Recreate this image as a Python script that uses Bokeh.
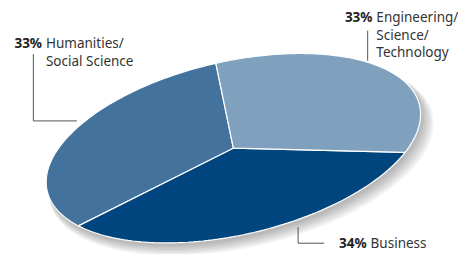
import numpy as np
from bokeh.plotting import figure
from bokeh.models import Range1d, ColumnDataSource
from bokeh.embed import file_html
from bokeh.resources import INLINE
from bokeh.core.properties import value

# ---- data ----
categories = ["Humanities/Social Science", "Business", "Engineering/Science/Technology"]
percents = [33, 34, 33]
pct_labels = ["33%", "34%", "33%"]
name_lines = [["Humanities/", "Social Science"], ["Business"], ["Engineering/", "Science/", "Technology"]]
colors = ["#43729c", "#00457d", "#7fa1be"]

W, H = 458, 254
p = figure(width=W, height=H, x_range=Range1d(0, 474), y_range=Range1d(270, 0),
           output_backend="svg", toolbar_location=None, min_border=0)
p.axis.visible = False
p.grid.visible = False
p.outline_line_color = None
p.background_fill_color = "white"
p.border_fill_color = "white"

# tilted pie geometry
cx, cy, a, b = 241.0, 157.0, 198.0, 92.0
tilt = np.radians(13.5)
start = np.radians(89.0)


def pt(t, ox=0.0, oy=0.0, s=1.0):
    xu = s * a * np.cos(t) * np.cos(tilt) - s * b * np.sin(t) * np.sin(tilt)
    yu = s * a * np.cos(t) * np.sin(tilt) + s * b * np.sin(t) * np.cos(tilt)
    return cx + ox + xu, cy + oy - yu


# shadow
tt = np.linspace(0, 2 * np.pi, 200)
for i in range(8):
    sx, sy = pt(tt, ox=2 + i * 0.9, oy=3 + i * 1.1, s=1.0 + i * 0.004)
    p.patch(list(sx), list(sy), fill_color="#444444", fill_alpha=0.05, line_color=None)

# slices
total = float(sum(percents))
xs, ys = [], []
acc = start
for v in percents:
    ang = 2 * np.pi * v / total
    t = np.linspace(acc, acc + ang, 80)
    ex, ey = pt(t)
    xs.append([cx] + list(ex) + [cx])
    ys.append([cy] + list(ey) + [cy])
    acc += ang
src = ColumnDataSource(dict(xs=xs, ys=ys, color=colors, cat=categories))
p.patches("xs", "ys", source=src, fill_color="color", line_color="white", line_width=1.2)

# leader lines
lc = "#555555"
p.line([34, 34, 79], [57, 128, 128], line_color=lc, line_width=1)
p.line([380, 380], [32, 64], line_color=lc, line_width=1)
p.line([308, 308, 335], [241, 258, 258], line_color=lc, line_width=1)

# labels
FONT = "Noto Sans"
FS = "13.5px"
label_pos = [(43, 45, 19), (379, 258, 19), (385, 18, 18.5)]
for (x0, y0, lh), pl, lines in zip(label_pos, pct_labels, name_lines):
    p.text([x0], [y0], text=[pl], text_font=value(FONT), text_font_style="bold",
           text_font_size=FS, text_align="right", text_baseline="middle", text_color="#222222")
    for j, ln in enumerate(lines):
        p.text([x0 + 4], [y0 + j * lh], text=[ln], text_font=value(FONT),
               text_font_size=FS, text_align="left", text_baseline="middle", text_color="#333333")

open("out.html", "w").write(file_html(p, INLINE))
